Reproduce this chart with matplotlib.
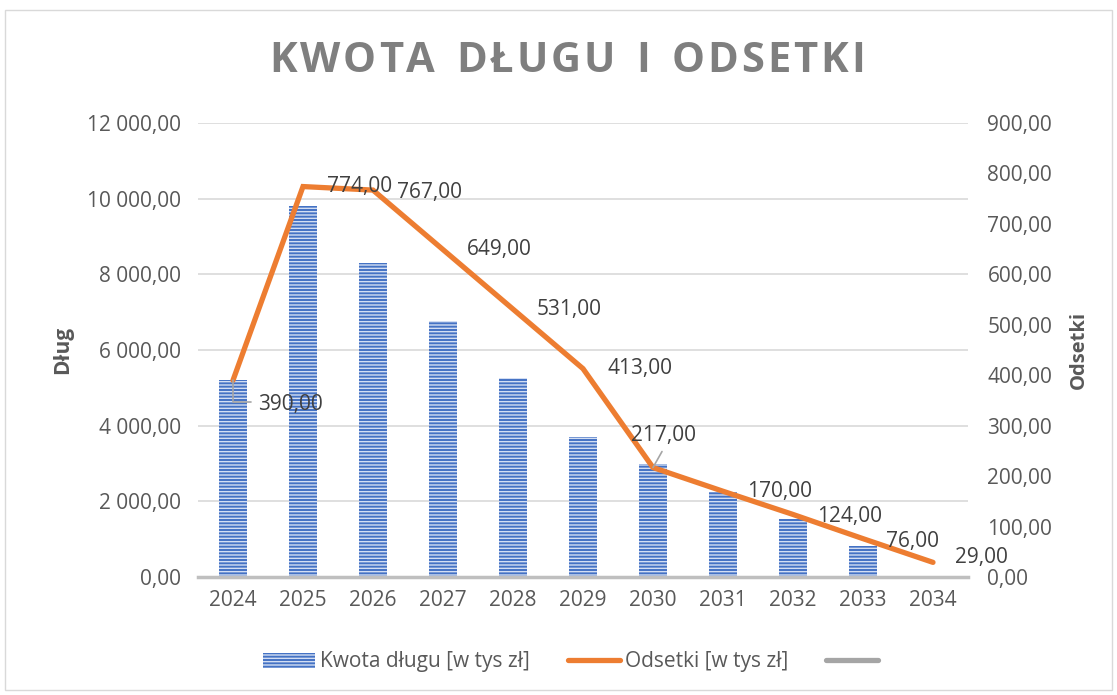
import matplotlib
matplotlib.use("Agg")
import matplotlib.pyplot as plt
from matplotlib.lines import Line2D
from matplotlib.patches import Patch, Rectangle

years = ["2024", "2025", "2026", "2027", "2028", "2029", "2030", "2031", "2032", "2033", "2034"]
debt = [5200, 9800, 8300, 6770, 5250, 3700, 3000, 2250, 1520, 820, 0]
interest = [390, 774, 767, 649, 531, 413, 217, 170, 124, 76, 29]

left_ticks = [0, 2000, 4000, 6000, 8000, 10000, 12000]
right_ticks = [0, 100, 200, 300, 400, 500, 600, 700, 800, 900]

def pl(v):
    s = f"{v:,.2f}"
    return s.replace(",", " ").replace(".", ",")

plt.rcParams['font.family'] = ['Open Sans', 'DejaVu Sans']
plt.rcParams['hatch.color'] = '#D3DEF3'
plt.rcParams['hatch.linewidth'] = 1.0

FS = 15
PX = 0.72  # points per pixel at dpi 100
fig = plt.figure(figsize=(11.17, 6.95), dpi=100)
ax = fig.add_axes([198/1117, 1-577/695, 770/1117, 454/695])
x = list(range(len(years)))

ax.bar(x, debt, width=0.39, color='#4472C4', hatch='-----', edgecolor='#D3DEF3', linewidth=0, zorder=2)
ax.set_xlim(-0.5, len(years)-0.5)
ax.set_ylim(0, 12000)
ax.set_yticks(left_ticks)
ax.set_yticklabels([pl(v) for v in left_ticks])
ax.set_xticks(x)
ax.set_xticklabels(years)
ax.grid(axis='y', color='#D9D9D9', linewidth=1.2, zorder=0)
ax.set_axisbelow(True)
for s in ['top', 'right', 'left']:
    ax.spines[s].set_visible(False)
ax.spines['bottom'].set_color('#BFBFBF')
ax.spines['bottom'].set_linewidth(2.5)
ax.tick_params(axis='both', length=0, labelsize=FS, labelcolor='#595959', pad=9)
ax.tick_params(axis='y', pad=12)
ax.set_ylabel("Dług", fontsize=15, fontweight='bold', color='#595959', labelpad=10)

ax2 = ax.twinx()
ax2.plot(x, interest, color='#ED7D31', linewidth=3.8, solid_capstyle='round', solid_joinstyle='miter', zorder=3)
ax2.set_ylim(0, 900)
ax2.set_yticks(right_ticks)
ax2.set_yticklabels([pl(v) for v in right_ticks])
for s in ['top', 'right', 'left', 'bottom']:
    ax2.spines[s].set_visible(False)
ax2.tick_params(axis='y', length=0, labelsize=FS, labelcolor='#595959', pad=14)
ax2.set_ylabel("Odsetki", fontsize=14.5, fontweight='bold', color='#595959', labelpad=12)

# data labels: offsets in pixels (dx, dy) from point to the label's left-centre
offsets = [(25, -24), (24, 0), (24, -2), (24, 0), (24, 0), (24, 0), (-22, 32), (24, 0), (24, -2), (23, -3), (22, 5)]
for i, (v, (dx, dy)) in enumerate(zip(interest, offsets)):
    ax2.annotate(pl(v), xy=(x[i], v), xytext=(dx*PX, dy*PX), textcoords='offset points',
                 ha='left', va='center', fontsize=FS, color='#404040', zorder=5)

# leader lines
ax2.annotate("", xy=(0, 390), xytext=(18*PX, -22*PX), textcoords='offset points',
             arrowprops=dict(arrowstyle='-', color='#A5A5A5', lw=1.2, shrinkA=0, shrinkB=0,
                             connectionstyle='angle,angleA=0,angleB=90,rad=0'))
ax2.annotate("", xy=(6, 217), xytext=(9*PX, 16*PX), textcoords='offset points',
             arrowprops=dict(arrowstyle='-', color='#A5A5A5', lw=1.2, shrinkA=0, shrinkB=0))

# letter-spaced title
title = "KWOTA DŁUGU I ODSETKI"
fig.canvas.draw()
renderer = fig.canvas.get_renderer()
spacing = 3.0  # px between letters
chars = []
widths = []
for ch in title:
    t = fig.text(0, 1-62/695, ch if ch != " " else "I", fontsize=30, fontweight='bold',
                 color='#7F7F7F', ha='left', va='center')
    w = t.get_window_extent(renderer).width
    if ch == " ":
        t.set_text("")
        w = w * 1.1
    chars.append(t)
    widths.append(w)
total = sum(widths) + spacing * (len(title) - 1)
xpos = 567 - total / 2
for t, w in zip(chars, widths):
    t.set_x(xpos / 1117)
    xpos += w + spacing

handles = [Patch(facecolor='#4472C4', hatch='-----', edgecolor='#D3DEF3', linewidth=0),
           Line2D([0], [0], color='#ED7D31', lw=3.8, solid_capstyle='round'),
           Line2D([0], [0], color='#A5A5A5', lw=3.8, solid_capstyle='round')]
labels = ["Kwota długu [w tys zł]", "Odsetki [w tys zł]", ""]
fig.legend(handles, labels, loc='center', bbox_to_anchor=(573/1117, 1-662/695), ncol=3,
           frameon=False, fontsize=FS, labelcolor='#595959', handlelength=2.5,
           handletextpad=0.25, columnspacing=1.8)

fig.add_artist(Rectangle((5/1117, 1-690/695), 1107/1117, 680/695, transform=fig.transFigure,
                         fill=False, edgecolor='#D9D9D9', linewidth=1))

fig.savefig("out.png", dpi=100)
